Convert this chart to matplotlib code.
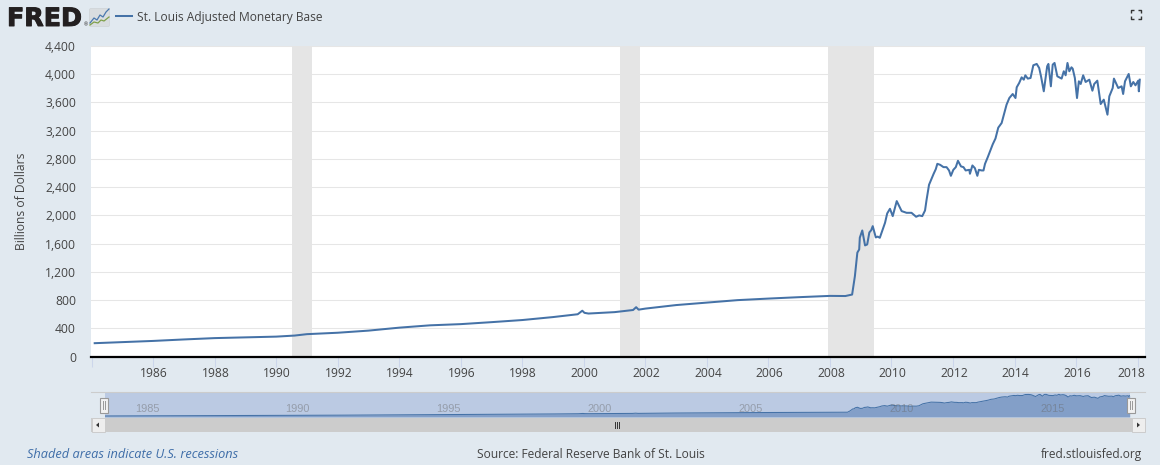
import matplotlib
matplotlib.use('Agg')
import matplotlib.pyplot as plt
import matplotlib.patches as patches
import matplotlib.patheffects as pe
from matplotlib.transforms import ScaledTranslation

# values (billions of dollars)
years = [1984.1, 1985, 1986, 1987, 1988, 1989, 1990, 1990.6, 1991, 1992, 1993, 1994, 1995, 1996, 1997, 1998,
         1999, 1999.8, 1999.95, 2000.02, 2000.15, 2001, 2001.6, 2001.7, 2001.78, 2002, 2002.5, 2003, 2004, 2005, 2006,
         2007, 2008, 2008.5, 2008.72, 2008.81, 2008.89, 2008.95, 2008.97, 2009.05, 2009.14, 2009.21, 2009.28,
         2009.34, 2009.39, 2009.49, 2009.55, 2009.62, 2009.79, 2009.86, 2009.95, 2010.04, 2010.17, 2010.33,
         2010.49, 2010.65, 2010.80, 2010.9, 2011.0, 2011.09, 2011.14, 2011.22, 2011.31, 2011.37, 2011.44,
         2011.49, 2011.58, 2011.69, 2011.79, 2011.87, 2011.93, 2012.01, 2012.09, 2012.16, 2012.26, 2012.34,
         2012.41, 2012.53, 2012.55, 2012.63, 2012.71, 2012.79, 2012.84, 2012.93, 2012.99, 2013.04, 2013.13,
         2013.22, 2013.29, 2013.38, 2013.47, 2013.58, 2013.74, 2013.83, 2013.94, 2014.03, 2014.07, 2014.15,
         2014.23, 2014.30, 2014.35, 2014.43, 2014.52, 2014.61, 2014.72, 2014.80, 2014.86, 2014.95, 2015.06,
         2015.10, 2015.18, 2015.24, 2015.30, 2015.39, 2015.53, 2015.60, 2015.66, 2015.72, 2015.78, 2015.85,
         2015.89, 2015.96, 2016.03, 2016.09, 2016.15, 2016.23, 2016.31, 2016.43, 2016.53, 2016.59, 2016.69,
         2016.80, 2016.90, 2017.02, 2017.08, 2017.19, 2017.23, 2017.37, 2017.48, 2017.53, 2017.59, 2017.71,
         2017.78, 2017.86, 2017.93, 2018.02, 2018.04, 2018.07]
values = [190, 205, 222, 243, 262, 273, 283, 298, 318, 338, 368, 410, 443, 460, 488, 518,
          560, 600, 650, 620, 610, 630, 660, 700, 665, 680, 705, 730, 765, 800, 822,
          842, 860, 858, 879, 1139, 1473, 1518, 1685, 1787, 1575, 1589, 1759,
          1790, 1848, 1688, 1700, 1683, 1896, 2028, 2094, 1990, 2203, 2061,
          2037, 2037, 1981, 2000, 1990, 2070, 2221, 2434, 2528, 2590, 2656,
          2731, 2717, 2684, 2684, 2637, 2561, 2646, 2684, 2774, 2694, 2684,
          2637, 2646, 2590, 2708, 2670, 2561, 2646, 2637, 2637, 2731, 2826,
          2930, 3007, 3090, 3243, 3309, 3569, 3663, 3720, 3663, 3815, 3876,
          3956, 3923, 3985, 3938, 3947, 4127, 4146, 4089, 3971, 3758, 4113,
          4146, 3829, 4136, 4160, 3971, 3938, 4042, 3985, 4160, 4042, 4098,
          4079, 3947, 3663, 3900, 3862, 3985, 3890, 3923, 3767, 3862, 3909,
          3578, 3640, 3427, 3687, 3805, 3938, 3805, 3829, 3720, 3900, 4004,
          3829, 3890, 3843, 3909, 3758, 3923]

rec_start = [1990.5, 2001.17, 2007.92]
rec_end = [1991.17, 2001.83, 2009.42]

y_ticks = [0, 400, 800, 1200, 1600, 2000, 2400, 2800, 3200, 3600, 4000, 4400]
x_ticks = [1984, 1986, 1988, 1990, 1992, 1994, 1996, 1998, 2000, 2002, 2004, 2006, 2008, 2010, 2012, 2014, 2016, 2018]
nav_years = [1985, 1990, 1995, 2000, 2005, 2010, 2015]

BG = '#E1E9F0'
W, H = 1160, 465
TEXT = '#444444'
plt.rcParams['font.family'] = ['Open Sans', 'DejaVu Sans']


def px_axes(left, top, right, bottom, **kw):
    return fig.add_axes([left / W, 1 - bottom / H, (right - left) / W, (bottom - top) / H], **kw)


fig = plt.figure(figsize=(W / 100, H / 100), dpi=100, facecolor=BG)

# main chart
ax = px_axes(91, 46, 1145, 356.6, facecolor='white')
for s, e in zip(rec_start, rec_end):
    ax.axvspan(s, e, color='#E5E5E5', lw=0, zorder=1)
ax.plot(years, values, color='#4572A7', lw=1.45, zorder=3, solid_joinstyle='round')
ax.set_xlim(1983.98, 2018.24)
ax.set_ylim(0, 4400)
ax.set_yticks(y_ticks)
ax.set_yticklabels([f'{v:,}' for v in y_ticks], fontsize=8.7, color=TEXT)
ax.set_xticks(x_ticks)
ax.set_xticklabels([''] + [str(v) for v in x_ticks[1:]], fontsize=8.7, color=TEXT)
ax.tick_params(axis='y', length=0, pad=10.8)
ax.tick_params(axis='x', length=7.2, width=0.75, color='#CCD6EB', pad=0.5)
ax.grid(axis='y', color='#E6E6E6', lw=0.75, zorder=0)
ax.set_axisbelow(True)
for name, sp in ax.spines.items():
    sp.set_visible(False)
ax.axhline(0, color='black', lw=1.6, zorder=4, clip_on=False)
# labels sit a pixel right of their ticks, the last one is pushed in to stay inside the chart
xlabels = ax.get_xticklabels()
for lbl in xlabels[:-1]:
    lbl.set_transform(lbl.get_transform() + ScaledTranslation(0.01, 0, fig.dpi_scale_trans))
xlabels[-1].set_transform(xlabels[-1].get_transform() + ScaledTranslation(-0.065, 0, fig.dpi_scale_trans))
ax.set_ylabel('Billions of Dollars', fontsize=8.7, color=TEXT)
ax.yaxis.set_label_coords((28 - 91) / 1054, 0.5)

# navigator
nav = px_axes(104.5, 392.5, 1130, 417, facecolor='#BBCAE3')
nav.add_patch(patches.Rectangle((0, 0), 1, 1, transform=nav.transAxes, facecolor='#BBCAE3', lw=0, zorder=0))
nav.fill_between(years, values, 0, color='#839FC8', lw=0, zorder=1)
nav.plot(years, values, color='#4572A7', lw=0.75, zorder=2)
nav.set_xlim(1984.1, 2018.08)
nav.set_ylim(0, 4500)
nav.axis('off')
for yr in nav_years:
    nav.text(yr + 0.1, 0.33, str(yr), transform=nav.get_xaxis_transform(), fontsize=7.9, color='#666666', alpha=0.45,
             ha='left', va='center', family='Liberation Sans', zorder=5)

# everything else in page pixels: logo, scrollbar, handles, footer
pg = fig.add_axes([0, 0, 1, 1], facecolor='none', zorder=10)
pg.set_xlim(0, W)
pg.set_ylim(H, 0)
pg.axis('off')

pg.plot([91, 1145], [392.3, 392.3], color='#CCCCCC', lw=0.8)
pg.add_patch(patches.Rectangle((91, 417.5), 1054, 14.5, facecolor='#CCCCCC', lw=0))
for x in [91, 1131]:
    pg.add_patch(patches.Rectangle((x + 0.5, 418), 13, 13.5, facecolor='#EEEEEE', edgecolor='#CCCCCC', lw=0.7))
pg.add_patch(patches.Polygon([[96, 425], [99, 422.5], [99, 427.5]], facecolor='#333333', lw=0))
pg.add_patch(patches.Polygon([[1140, 425], [1137, 422.5], [1137, 427.5]], facecolor='#333333', lw=0))
for x in [615, 617, 619]:
    pg.plot([x, x], [422, 428], color='#333333', lw=0.7)
for x in [104, 1130.5]:
    pg.add_patch(patches.Rectangle((x - 4, 397.5), 8, 15, facecolor='#F2F2F2', edgecolor='#999999', lw=0.8))
    pg.plot([x - 1, x - 1], [401, 409], color='#999999', lw=0.7)
    pg.plot([x + 1, x + 1], [401, 409], color='#999999', lw=0.7)

# logo
pg.text(7, 26, 'FRED', fontsize=18.2, fontweight='bold', family='DejaVu Sans', color='#231F20', va='baseline',
        path_effects=[pe.withStroke(linewidth=0.7, foreground='#231F20')])
pg.text(83.5, 26, '®', fontsize=3.5, color='#231F20', va='baseline')
pg.add_patch(patches.FancyBboxPatch((90, 9), 19, 17, boxstyle='round,pad=0.5,rounding_size=1.5',
                                    facecolor='#D9DDE0', edgecolor='#CFD3D6', lw=0.5))
pg.plot([90, 94, 97, 100, 103, 106, 109], [23, 18, 20, 15, 17, 12, 9], color='#4A78AE', lw=0.9)
pg.plot([90, 94, 98, 101, 104, 109], [25, 22, 23, 20, 21, 17], color='#7FA04A', lw=0.9)

# legend line and title
pg.plot([116, 132], [16, 16], color='#4572A7', lw=1.45)
pg.text(137, 17, 'St. Louis Adjusted Monetary Base', fontsize=8.65, color=TEXT, va='center')

# full screen icon
for cx, cy, dx, dy in [(1131, 10, 1, 1), (1141, 10, -1, 1), (1131, 19, 1, -1), (1141, 19, -1, -1)]:
    pg.plot([cx + 3 * dx, cx, cx], [cy, cy, cy + 3 * dy], color='#333333', lw=1.0, solid_capstyle='butt')

# footer
pg.text(27, 454, 'Shaded areas indicate U.S. recessions', fontsize=9.18, fontstyle='italic', color='#3E6DA8', va='center')
pg.text(477, 454, 'Source: Federal Reserve Bank of St. Louis', fontsize=8.62, color=TEXT, va='center')
pg.text(1142, 454, 'fred.stlouisfed.org', fontsize=8.6, color=TEXT, va='center', ha='right')

fig.savefig('out.png', dpi=100, facecolor=BG)
